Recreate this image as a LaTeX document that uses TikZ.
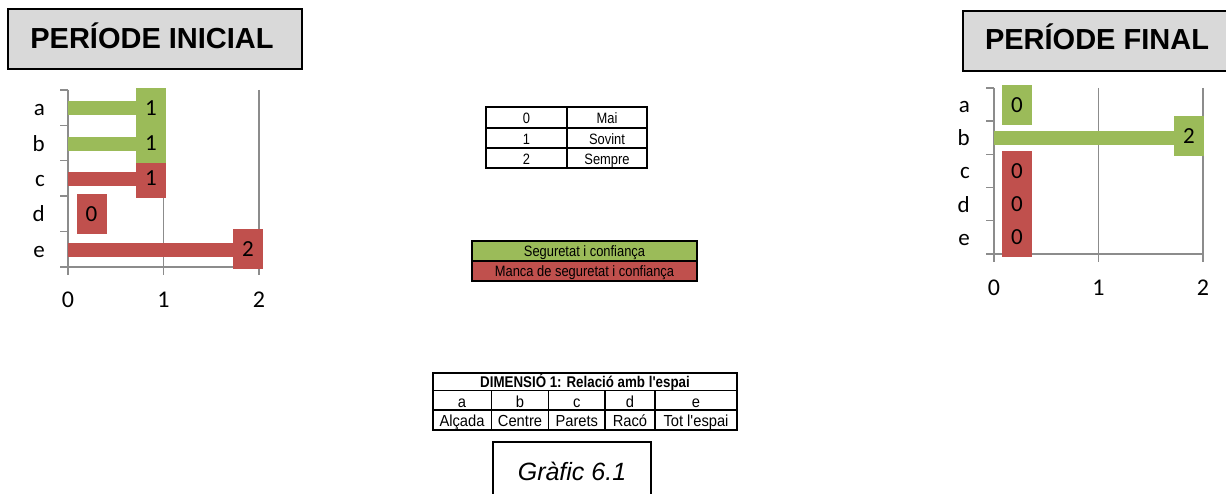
\documentclass[tikz,border=0pt]{standalone}
\usepackage{fontspec}
\setmainfont{Liberation Sans}
\newfontfamily\calibrifont{Carlito}
\newfontfamily\narrowfont[FakeStretch=0.86]{Liberation Sans}
\newfontfamily\cellfont[FakeStretch=0.92]{Liberation Sans}
\usetikzlibrary{positioning}

\definecolor{segGreen}{HTML}{9BBB59}
\definecolor{segRed}{HTML}{C0504D}
\definecolor{titleGray}{HTML}{D9D9D9}
\definecolor{axisGray}{HTML}{8C8C8C}

\tikzset{
  titlebox/.style={draw=black, line width=1.6pt, fill=titleGray},
  titletext/.style={anchor=base, inner sep=0pt, font=\bfseries\fontsize{29}{29}\selectfont},
  axisline/.style={draw=axisGray, line width=1.4pt},
  catlabel/.style={anchor=base east, inner sep=0pt, font=\calibrifont\fontsize{23}{23}\selectfont},
  numlabel/.style={anchor=base, inner sep=0pt, font=\calibrifont\fontsize{24}{24}\selectfont},
  valbox/.style={minimum width=30pt, minimum height=40pt, inner sep=0pt, font=\calibrifont\fontsize{23}{23}\selectfont},
  celltext/.style={anchor=base, inner sep=0pt, font=\narrowfont\fontsize{15}{15}\selectfont},
  dimtext/.style={anchor=base, inner sep=0pt, font=\cellfont\fontsize{16}{16}\selectfont},
  tableline/.style={draw=black, line width=1.6pt}
}

\begin{document}
\begin{tikzpicture}[x=1pt, y=-1pt]
  \useasboundingbox (0,0) rectangle (1226,494);

  % left chart
  \draw[titlebox] (8,9) rectangle (302,69);
  \node[titletext] (titleIni) at (152,48.5) {PERÍODE INICIAL};

  \foreach \i in {0,...,5}
    \draw[axisline] (60,{90+35.4*\i}) -- (68,{90+35.4*\i});
  \foreach \x in {68,163.5,259}
    \draw[axisline] (\x,90) -- (\x,275);
  \draw[axisline] (60,267) -- (260,267);

  \fill[segGreen] (68,101.2) rectangle (150,115.2);
  \fill[segGreen] (68,136.6) rectangle (150,150.6);
  \fill[segRed] (68,172) rectangle (150,186);
  \fill[segRed] (68,242.8) rectangle (240,256.8);

  \node[valbox, fill=segRed] (valIniC) at (151,178.5) {1};
  \node[valbox, fill=segRed] (valIniD) at (91.5,213.9) {0};
  \node[valbox, fill=segRed] (valIniE) at (248,249.3) {2};
  \node[valbox, fill=segGreen] (valIniA) at (151,107.7) {1};
  \node[valbox, fill=segGreen] (valIniB) at (151,143.1) {1};

  \foreach \c [count=\i] in {a,b,c,d,e}
    \node[catlabel] (catIni\c) at (45,{72.3+35.4*\i+8}) {\c};
  \foreach \v/\x in {0/68,1/163.5,2/259}
    \node[numlabel] (numIni\v) at (\x,308) {\v};

  % right chart
  \draw[titlebox] (963,11) rectangle (1232,71);
  \node[titletext] (titleFin) at (1097,50) {PERÍODE FINAL};

  \foreach \i in {0,...,5}
    \draw[axisline] (986,{88+33.2*\i}) -- (994,{88+33.2*\i});
  \foreach \x in {994,1098.5,1203}
    \draw[axisline] (\x,88) -- (\x,262);
  \draw[axisline] (986,254) -- (1204,254);

  \fill[segGreen] (994,131) rectangle (1180,145);

  \node[valbox, fill=segRed] (valFinC) at (1017,171) {0};
  \node[valbox, fill=segRed] (valFinD) at (1017,204.2) {0};
  \node[valbox, fill=segRed] (valFinE) at (1017,237.4) {0};
  \node[valbox, fill=segGreen] (valFinA) at (1017,105) {0};
  \node[valbox, fill=segGreen] (valFinB) at (1189,136) {2};

  \foreach \c [count=\i] in {a,b,c,d,e}
    \node[catlabel] (catFin\c) at (970,{71.4+33.2*\i+8}) {\c};
  \foreach \v/\x in {0/994,1/1098.5,2/1203}
    \node[numlabel] (numFin\v) at (\x,296) {\v};

  % scale table
  \draw[tableline] (486,107) rectangle (647,168);
  \draw[tableline] (567,107) -- (567,168);
  \draw[tableline] (486,128) -- (647,128);
  \draw[tableline] (486,148) -- (647,148);
  \foreach \v/\w/\y in {0/Mai/124, 1/Sovint/144.3, 2/Sempre/164.3}{
    \node[celltext] (scaleNum\v) at (526.5,\y) {\v};
    \node[celltext] (scaleTxt\v) at (607,\y) {\w};
  }

  % legend
  \fill[segGreen] (472,241) rectangle (697,261);
  \fill[segRed] (472,261) rectangle (697,281);
  \draw[tableline] (472,241) rectangle (697,281);
  \draw[tableline] (472,261) -- (697,261);
  \node[celltext] (legGreen) at (584.5,256.5) {Seguretat i confiança};
  \node[celltext] (legRed) at (584.5,276.5) {Manca de seguretat i confiança};

  % dimension table
  \draw[tableline] (433,373) rectangle (737,430);
  \draw[tableline] (433,390.5) -- (737,390.5);
  \draw[tableline] (433,410) -- (737,410);
  \foreach \x in {491.5,548.5,605,655}
    \draw[tableline] (\x,390.5) -- (\x,430);
  \node[celltext, font=\narrowfont\bfseries\fontsize{15.5}{15.5}\selectfont] (dimTitle) at (585,387.5) {DIMENSIÓ 1: Relació amb l'espai};
  \foreach \c/\w/\x in {a/Alçada/462, b/Centre/520, c/Parets/576.8, d/Racó/630, e/Tot l'espai/696}{
    \node[dimtext] (dimKey\c) at (\x,407) {\c};
    \node[dimtext] (dimName\c) at (\x,426.5) {\w};
  }

  % caption
  \draw[black, line width=1.3pt] (493,442) rectangle (651,500);
  \node[anchor=base, inner sep=0pt, font=\itshape\fontsize{25}{25}\selectfont] (caption) at (572,480) {Gràfic 6.1};
\end{tikzpicture}
\end{document}
